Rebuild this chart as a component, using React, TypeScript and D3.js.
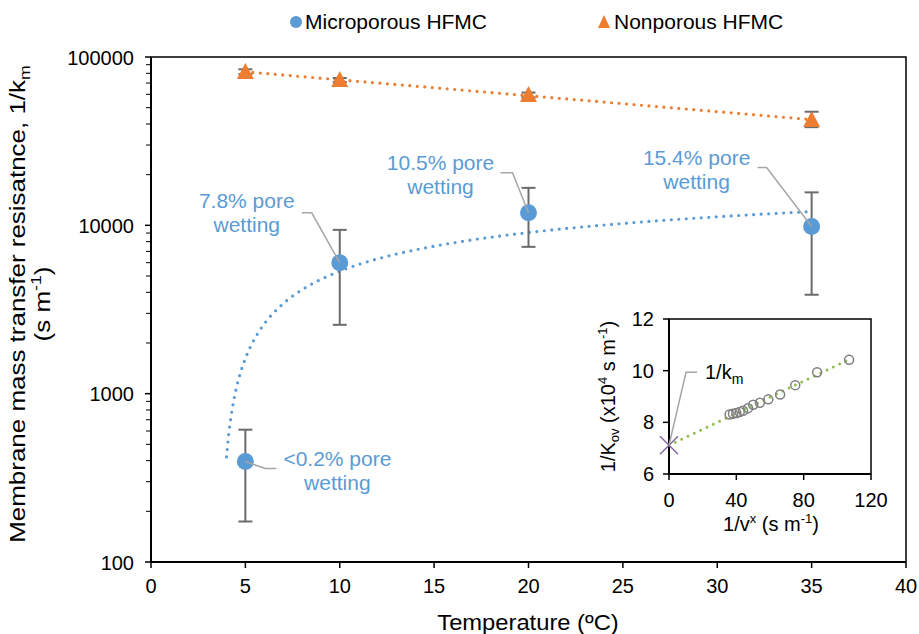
import React from "react";
import * as d3 from "d3";

// ---------- data ----------
const temps = [5, 10, 20, 35];
const microValues = [395, 5990, 11870, 9840];
const microErrLow = [174, 2565, 7450, 3870];
const microErrHigh = [611, 9400, 16700, 15700];
const nonValues = [81500, 73000, 59400, 42300];
const nonErrLow = [79000, 71000, 57500, 38300];
const nonErrHigh = [84500, 75000, 61500, 47300];
const wettingLabels = ["<0.2% pore", "7.8% pore", "10.5% pore", "15.4% pore"];
const xTicks = [0, 5, 10, 15, 20, 25, 30, 35, 40];
const yTicks = [100, 1000, 10000, 100000];

const insetX = [36, 38, 40, 42, 44, 47, 50, 54, 59, 66, 75, 88, 107];
const insetY = [8.3, 8.33, 8.36, 8.4, 8.45, 8.55, 8.68, 8.76, 8.89, 9.08, 9.44, 9.94, 10.42];
const insetXTicks = [0, 40, 80, 120];
const insetYTicks = [6, 8, 10, 12];

// ---------- helpers ----------
function linFit(xs: number[], ys: number[]) {
  const mx = d3.mean(xs)!;
  const my = d3.mean(ys)!;
  let sxy = 0, sxx = 0;
  xs.forEach((x, i) => { sxy += (x - mx) * (ys[i] - my); sxx += (x - mx) * (x - mx); });
  const a = sxy / sxx;
  return { a, b: my - a * mx };
}

const FONT = "Arial, 'Liberation Sans', sans-serif";
const BLUE = "#5B9BD5";
const ORANGE = "#ED7D31";
const GREEN = "#92C050";
const ERR = "#6b6b6b";
const LEAD = "#A6A6A6";

export default function App() {
  const W = 919, H = 634;
  const x = d3.scaleLinear().domain([0, 40]).range([151, 906]);
  const y = d3.scaleLog().domain([100, 100000]).range([562, 57]);
  const xi = d3.scaleLinear().domain([0, 120]).range([669, 871]);
  const yi = d3.scaleLinear().domain([6, 12]).range([474, 319]);

  // log trend for microporous
  const lf = linFit(temps.map(Math.log), microValues);
  const logTrend = d3.range(4, 35.001, 0.1).map((t) => [t, lf.a * Math.log(t) + lf.b] as [number, number]);
  const blueLine = d3.line<[number, number]>().x((d) => x(d[0])).y((d) => y(d[1]))(logTrend)!;

  // exponential trend for nonporous
  const ef = linFit(temps, nonValues.map(Math.log));
  const expTrend = d3.range(5, 35.001, 0.5).map((t) => [t, Math.exp(ef.a * t + ef.b)] as [number, number]);
  const orangeLine = d3.line<[number, number]>().x((d) => x(d[0])).y((d) => y(d[1]))(expTrend)!;

  // inset linear fit
  const gf = linFit(insetX, insetY);
  const gx0 = 0, gx1 = d3.max(insetX)! + 1;

  // annotation layout (offsets relative to point)
  const ann = [
    { tx: 92, ty: 4, lead: [[20, 7], [31, 7]] },
    { tx: -93, ty: -55, lead: [[-28, -50], [-38, -50]] },
    { tx: -88, ty: -43, lead: [[-16, -40], [-28, -40]] },
    { tx: -115, ty: -62, lead: [[-45, -59], [-54, -59]] },
  ];

  const cross = { cx: xi(0), cy: yi(gf.b) };

  return (
    <svg width={W} height={H} style={{ position: "absolute", left: 0, top: 0, background: "#fff" }} fontFamily={FONT}>
      <rect x={0} y={0} width={W} height={H} fill="#fff" />

      {/* legend */}
      <circle cx={296} cy={22} r={6} fill={BLUE} />
      <text x={305} y={29} fontSize={21} fill="#000">Microporous HFMC</text>
      <path d={`M${604},${15} L${610},${28} L${598},${28} Z`} fill={ORANGE} />
      <text x={614} y={29} fontSize={21} fill="#000">Nonporous HFMC</text>

      {/* main frame */}
      <rect x={x(0)} y={y(100000)} width={x(40) - x(0)} height={y(100) - y(100000)} fill="none" stroke="#000" strokeWidth={1.5} />
      <line x1={x(0)} x2={x(40)} y1={y(100)} y2={y(100)} stroke="#000" strokeWidth={2} />
      <line x1={x(0)} x2={x(0)} y1={y(100)} y2={y(100000)} stroke="#000" strokeWidth={2} />

      {/* x ticks */}
      {xTicks.map((t) => (
        <g key={"xt" + t}>
          <line x1={x(t)} x2={x(t)} y1={y(100)} y2={y(100) + 6} stroke="#000" strokeWidth={1.5} />
          <text x={x(t)} y={593} fontSize={20} textAnchor="middle">{t}</text>
        </g>
      ))}
      {/* y ticks */}
      {yTicks.map((t) => (
        <g key={"yt" + t}>
          <line x1={x(0) - 6} x2={x(0)} y1={y(t)} y2={y(t)} stroke="#000" strokeWidth={1.5} />
          <text x={134} y={y(t) + 7.5} fontSize={20} textAnchor="end">{t}</text>
        </g>
      ))}
      {yTicks.slice(0, 3).flatMap((t) =>
        d3.range(2, 10).map((m) => (
          <line key={"ym" + t + m} x1={x(0) - 5} x2={x(0)} y1={y(t * m)} y2={y(t * m)} stroke="#000" strokeWidth={1} />
        ))
      )}

      {/* axis titles */}
      <g transform="translate(528,630) scale(1.08,1)">
        <text x={0} y={0} fontSize={22} textAnchor="middle">Temperature (ºC)</text>
      </g>
      <g transform="translate(25,304) rotate(-90) scale(1.18,1)">
        <text x={0} y={0} fontSize={22} textAnchor="middle">
          Membrane mass transfer resisatnce, 1/k<tspan fontSize={15} dy={5}>m</tspan>
        </text>
        <text x={0} y={25} fontSize={22} textAnchor="middle">
          (s m<tspan fontSize={15} dy={-9}>-1</tspan><tspan dy={9}>)</tspan>
        </text>
      </g>

      {/* trend lines */}
      <path d={orangeLine} fill="none" stroke={ORANGE} strokeWidth={3.2} strokeDasharray="0 7.5" strokeLinecap="round" />
      <path d={blueLine} fill="none" stroke={BLUE} strokeWidth={3.2} strokeDasharray="0 7.5" strokeLinecap="round" />

      {/* nonporous */}
      {temps.map((t, i) => (
        <g key={"np" + t}>
          <line x1={x(t)} x2={x(t)} y1={y(nonErrLow[i])} y2={y(nonErrHigh[i])} stroke={ERR} strokeWidth={2} />
          <line x1={x(t) - 7} x2={x(t) + 7} y1={y(nonErrLow[i])} y2={y(nonErrLow[i])} stroke={ERR} strokeWidth={2} />
          <line x1={x(t) - 7} x2={x(t) + 7} y1={y(nonErrHigh[i])} y2={y(nonErrHigh[i])} stroke={ERR} strokeWidth={2} />
          <path d={`M${x(t)},${y(nonValues[i]) - 9} L${x(t) + 8.5},${y(nonValues[i]) + 7} L${x(t) - 8.5},${y(nonValues[i]) + 7} Z`} fill={ORANGE} />
        </g>
      ))}

      {/* microporous */}
      {temps.map((t, i) => (
        <g key={"mp" + t}>
          <line x1={x(t)} x2={x(t)} y1={y(microErrLow[i])} y2={y(microErrHigh[i])} stroke={ERR} strokeWidth={2} />
          <line x1={x(t) - 7} x2={x(t) + 7} y1={y(microErrLow[i])} y2={y(microErrLow[i])} stroke={ERR} strokeWidth={2} />
          <line x1={x(t) - 7} x2={x(t) + 7} y1={y(microErrHigh[i])} y2={y(microErrHigh[i])} stroke={ERR} strokeWidth={2} />
          <circle cx={x(t)} cy={y(microValues[i])} r={8.5} fill={BLUE} />
        </g>
      ))}

      {/* annotations */}
      {temps.map((t, i) => {
        const px = x(t), py = y(microValues[i]);
        const a = ann[i];
        const pts = [[px, py], [px + a.lead[0][0], py + a.lead[0][1]], [px + a.lead[1][0], py + a.lead[1][1]]];
        return (
          <g key={"an" + t}>
            <polyline points={pts.map((p) => p.join(",")).join(" ")} fill="none" stroke={LEAD} strokeWidth={1.5} />
            <text x={px + a.tx} y={py + a.ty} fontSize={21} fill={BLUE} textAnchor="middle">{wettingLabels[i]}</text>
            <text x={px + a.tx} y={py + a.ty + 24} fontSize={21} fill={BLUE} textAnchor="middle">wetting</text>
          </g>
        );
      })}

      {/* inset */}
      <rect x={xi(0)} y={yi(12)} width={xi(120) - xi(0)} height={yi(6) - yi(12)} fill="#fff" stroke="#000" strokeWidth={1.5} />
      <line x1={xi(0)} x2={xi(120)} y1={yi(6)} y2={yi(6)} stroke="#000" strokeWidth={2} />
      <line x1={xi(0)} x2={xi(0)} y1={yi(6)} y2={yi(12)} stroke="#000" strokeWidth={2} />
      {insetXTicks.map((t) => (
        <g key={"ixt" + t}>
          <line x1={xi(t)} x2={xi(t)} y1={yi(6)} y2={yi(6) + 6} stroke="#000" strokeWidth={1.5} />
          <text x={xi(t)} y={507} fontSize={20} textAnchor="middle">{t}</text>
        </g>
      ))}
      {insetYTicks.map((t) => (
        <g key={"iyt" + t}>
          <line x1={xi(0) - 6} x2={xi(0)} y1={yi(t)} y2={yi(t)} stroke="#000" strokeWidth={1.5} />
          <text x={654} y={yi(t) + 7} fontSize={20} textAnchor="end">{t}</text>
        </g>
      ))}
      <text x={771} y={531} fontSize={20} textAnchor="middle">
        1/v<tspan fontSize={13} dy={-8}>x</tspan><tspan dy={8}> (s m</tspan><tspan fontSize={13} dy={-8}>-1</tspan><tspan dy={8}>)</tspan>
      </text>
      <g transform={`translate(615,${(yi(6) + yi(12)) / 2}) rotate(-90)`}>
        <text x={0} y={0} fontSize={20} textAnchor="middle">
          1/K<tspan fontSize={13} dy={4}>ov</tspan><tspan dy={-4}> (x10</tspan><tspan fontSize={13} dy={-8}>4</tspan><tspan dy={8}> s m</tspan><tspan fontSize={13} dy={-8}>-1</tspan><tspan dy={8}>)</tspan>
        </text>
      </g>

      <line x1={xi(gx0)} y1={yi(gf.a * gx0 + gf.b)} x2={xi(gx1)} y2={yi(gf.a * gx1 + gf.b)} stroke={GREEN} strokeWidth={3} strokeDasharray="0 7" strokeLinecap="round" />
      {insetX.map((v, i) => (
        <circle key={"ic" + i} cx={xi(v)} cy={yi(insetY[i])} r={4.5} fill="none" stroke="#7f7f7f" strokeWidth={1.5} />
      ))}
      {/* intercept cross */}
      <line x1={cross.cx - 9} x2={cross.cx + 9} y1={cross.cy - 9} y2={cross.cy + 9} stroke="#8064A2" strokeWidth={1.5} />
      <line x1={cross.cx - 9} x2={cross.cx + 9} y1={cross.cy + 9} y2={cross.cy - 9} stroke="#8064A2" strokeWidth={1.5} />
      <polyline points={`${cross.cx},${cross.cy} ${cross.cx + 17},${cross.cy - 73} ${cross.cx + 28},${cross.cy - 73}`} fill="none" stroke={LEAD} strokeWidth={1.5} />
      <text x={cross.cx + 36} y={cross.cy - 66} fontSize={20}>1/k<tspan fontSize={14} dy={5}>m</tspan></text>
    </svg>
  );
}
